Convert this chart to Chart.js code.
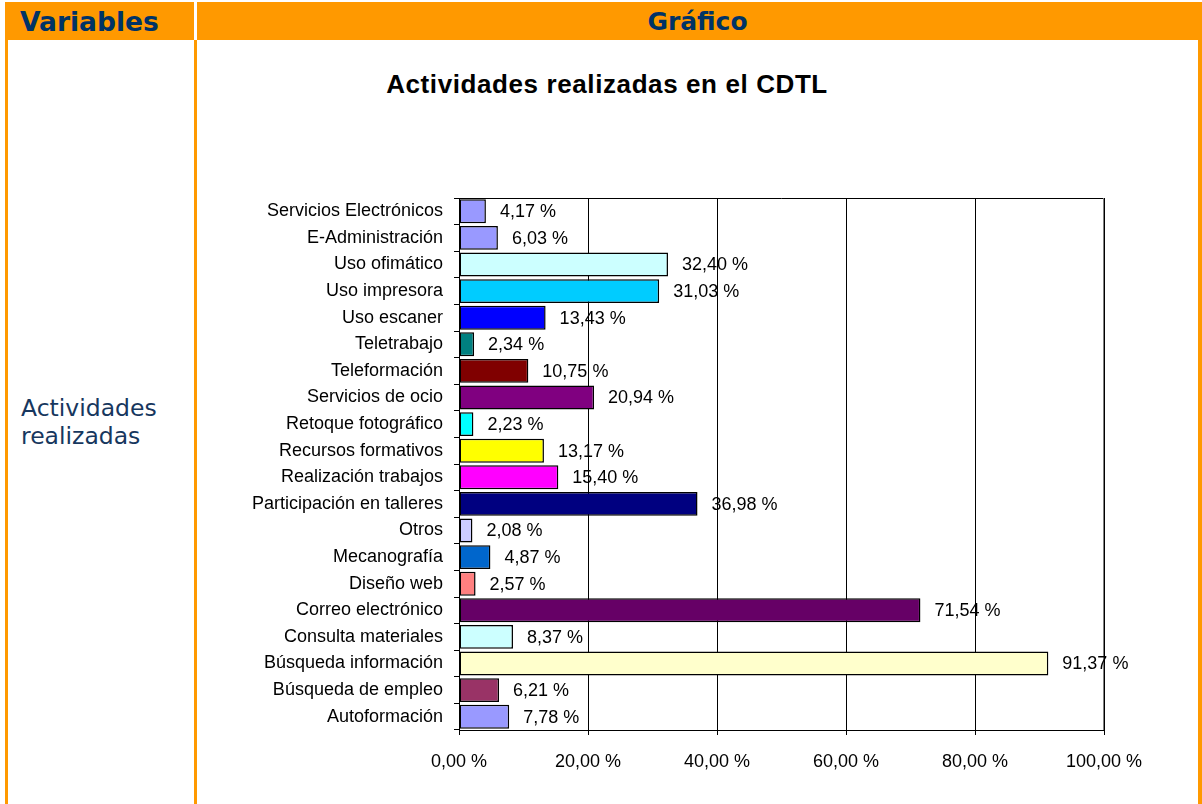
<!DOCTYPE html>
<html>
<head>
<meta charset="utf-8">
<script src="https://cdn.jsdelivr.net/npm/chart.js@4"></script>
<style>
  body { margin: 0; background: #fff; width: 1202px; height: 804px; position: relative; overflow: hidden; }
  .orange { position: absolute; background: #FF9900; }
  .head { position: absolute; top: 2px; height: 38px; line-height: 38px; padding-top: 1px; font-family: "DejaVu Sans", Verdana, sans-serif; font-weight: bold; font-size: 25px; color: #003366; }
  #side { position: absolute; left: 21px; top: 394px; font-family: "DejaVu Sans", Verdana, sans-serif; font-size: 23.5px; line-height: 28px; color: #17375E; }
  #title { position: absolute; left: 0; width: 1214px; top: 71px; text-align: center; font-family: "Liberation Sans", Arial, sans-serif; font-weight: bold; font-size: 26px; letter-spacing: 0.6px; line-height: 1; color: #000; }
  #wrap { position: absolute; left: 198px; top: 42px; width: 998px; height: 762px; }
</style>
</head>
<body>
<div class="orange" style="left:5px;top:2px;width:1197px;height:38px;"></div>
<div style="position:absolute;left:194px;top:2px;width:3px;height:38px;background:#fff;"></div>
<div class="orange" style="left:5px;top:40px;width:3px;height:764px;"></div>
<div class="orange" style="left:194px;top:40px;width:3px;height:764px;"></div>
<div class="orange" style="left:1198px;top:40px;width:4px;height:764px;"></div>
<div class="head" style="left:20px;font-size:26.5px;">Variables</div>
<div class="head" style="left:197px;width:1001px;text-align:center;">Gráfico</div>
<div id="side">Actividades<br>realizadas</div>
<div id="title">Actividades realizadas en el CDTL</div>
<div id="wrap"><canvas id="chart" width="998" height="762"></canvas></div>
<script>
const categories = [
  'Servicios Electrónicos', 'E-Administración', 'Uso ofimático', 'Uso impresora',
  'Uso escaner', 'Teletrabajo', 'Teleformación', 'Servicios de ocio',
  'Retoque fotográfico', 'Recursos formativos', 'Realización trabajos',
  'Participación en talleres', 'Otros', 'Mecanografía', 'Diseño web',
  'Correo electrónico', 'Consulta materiales', 'Búsqueda información',
  'Búsqueda de empleo', 'Autoformación'
];
const percentages = [
  4.17, 6.03, 32.40, 31.03, 13.43, 2.34, 10.75, 20.94, 2.23, 13.17,
  15.40, 36.98, 2.08, 4.87, 2.57, 71.54, 8.37, 91.37, 6.21, 7.78
];
const barColors = [
  '#9999FF', '#9999FF', '#CCFFFF', '#00CCFF', '#0000FF', '#008080', '#800000',
  '#800080', '#00FFFF', '#FFFF00', '#FF00FF', '#000080', '#CCCCFF', '#0066CC',
  '#FF8080', '#660066', '#CCFFFF', '#FFFFCC', '#993366', '#9999FF'
];

const fmt = v => v.toFixed(2).replace('.', ',') + ' %';
const font = { family: '"Liberation Sans", Arial, sans-serif', size: 18 };

// value labels next to each bar + frame of the plot area
const extras = {
  id: 'extras',
  afterDatasetsDraw(chart) {
    const ctx = chart.ctx;
    const area = chart.chartArea;
    ctx.save();
    ctx.strokeStyle = '#000';
    ctx.lineWidth = 1;
    ctx.beginPath();
    ctx.moveTo(area.left + 0.5, area.top + 0.5);
    ctx.lineTo(area.right, area.top + 0.5);
    ctx.stroke();
    ctx.strokeStyle = '#808080';
    ctx.beginPath();
    ctx.moveTo(area.right - 0.5, area.top);
    ctx.lineTo(area.right - 0.5, area.bottom);
    ctx.stroke();

    ctx.fillStyle = '#000';
    ctx.font = '18px "Liberation Sans", Arial, sans-serif';
    ctx.textAlign = 'left';
    ctx.textBaseline = 'middle';
    chart.getDatasetMeta(0).data.forEach((bar, i) => {
      ctx.fillText(fmt(percentages[i]), bar.x + 14, bar.y + 1);
    });
    ctx.restore();
  }
};

new Chart(document.getElementById('chart'), {
  type: 'bar',
  data: {
    labels: categories,
    datasets: [{
      data: percentages,
      backgroundColor: barColors,
      borderColor: '#000',
      borderWidth: 1.5,
      borderSkipped: false,
      barPercentage: 0.9,
      categoryPercentage: 1
    }]
  },
  options: {
    indexAxis: 'y',
    responsive: false,
    animation: false,
    layout: { padding: { top: 156, right: 92, left: 0, bottom: 0 } },
    plugins: { legend: { display: false }, tooltip: { enabled: false } },
    scales: {
      x: {
        min: 0,
        max: 100,
        ticks: { stepSize: 20, callback: v => fmt(v), font: font, color: '#000', padding: 16, maxRotation: 0 },
        grid: { color: '#000', lineWidth: 1, tickLength: 5 },
        border: { color: '#000' },
        afterFit(scale) { scale.height = 74; }
      },
      y: {
        ticks: { font: font, color: '#000', padding: 11, autoSkip: false },
        grid: { offset: true, drawOnChartArea: false, color: '#000', tickLength: 5 },
        border: { color: '#000' },
        afterFit(scale) { scale.width = 261; }
      }
    }
  },
  plugins: [extras]
});
</script>
</body>
</html>
